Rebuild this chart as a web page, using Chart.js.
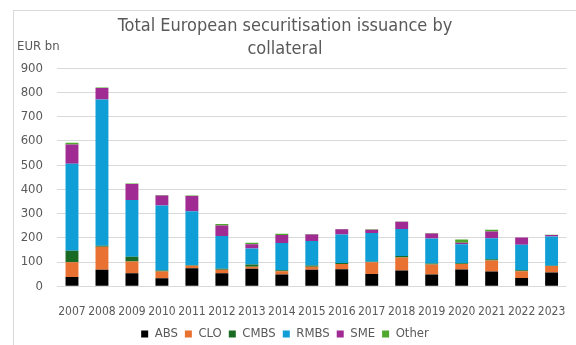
<!DOCTYPE html>
<html>
<head>
<meta charset="utf-8">
<script src="https://cdn.jsdelivr.net/npm/chart.js@4"></script>
<style>
  body { margin: 0; background: #fff; }
  #wrap { position: relative; width: 576px; height: 345px; }
  #frame { position: absolute; left: 13px; top: 10px; width: 600px; height: 400px; border: 1px solid #d9d9d9; }
  canvas { position: absolute; left: 0; top: 0; }
</style>
</head>
<body>
<div id="wrap">
  <div id="frame"></div>
  <canvas id="chart" width="576" height="345"></canvas>
</div>
<script>
const years = ['2007', '2008', '2009', '2010', '2011', '2012', '2013', '2014', '2015', '2016', '2017', '2018', '2019', '2020', '2021', '2022', '2023']

// issuance per collateral type, EUR bn
const abs   = [38, 68, 54, 33, 75, 54, 72, 49, 68, 70, 51, 65, 49, 69, 61, 34, 57]
const clo   = [61, 95, 48, 28, 10, 14, 9, 13, 13, 22, 48, 54, 41, 23, 45, 28, 27]
const cmbs  = [48, 4, 20, 4, 2, 4, 9, 4, 5, 4, 2, 6, 4, 3, 6, 4, 1]
const rmbs  = [359, 604, 234, 269, 223, 136, 66, 113, 101, 118, 119, 112, 103, 79, 86, 106, 121]
const sme   = [79, 48, 66, 41, 63, 43, 18, 33, 27, 21, 13, 29, 21, 6, 28, 29, 6]
const other = [8, 2, 2, 2, 2, 6, 6, 5, 2, 2, 2, 2, 2, 13, 7, 0, 1]

const yTicks = [0, 100, 200, 300, 400, 500, 600, 700, 800, 900]

const fontFam = '"DejaVu Sans Condensed", "Liberation Sans", sans-serif'
const grey = '#595959'

function series(label, data, color) {
    return {
        label: label,
        data: data,
        backgroundColor: color,
        borderWidth: 0,
        barPercentage: 0.43,
        categoryPercentage: 1
    }
}

// "EUR bn" unit label above the value axis
const unitLabel = {
    id: 'unitLabel',
    afterDraw(chart) {
        const ctx = chart.ctx
        ctx.save()
        ctx.font = '13px ' + fontFam
        ctx.fillStyle = grey
        ctx.textAlign = 'left'
        ctx.textBaseline = 'middle'
        ctx.fillText('EUR bn', 17, 47)
        ctx.restore()
    }
}

new Chart(document.getElementById('chart'), {
    type: 'bar',
    data: {
        labels: years,
        datasets: [
            series('ABS', abs, '#000000'),
            series('CLO', clo, '#E97132'),
            series('CMBS', cmbs, '#196B24'),
            series('RMBS', rmbs, '#0F9ED5'),
            series('SME', sme, '#A02B93'),
            series('Other', other, '#4EA72E')
        ]
    },
    options: {
        responsive: false,
        animation: false,
        layout: { padding: { left: 0, right: 6, top: 0, bottom: -5.5 } },
        plugins: {
            title: {
                display: true,
                text: ['Total European securitisation issuance by', 'collateral'],
                color: grey,
                font: { family: fontFam, size: 18, weight: 'normal', lineHeight: 1.28 },
                padding: { top: 15, bottom: 7.2 }
            },
            legend: {
                position: 'bottom',
                labels: {
                    color: grey,
                    font: { family: fontFam, size: 13 },
                    boxWidth: 7,
                    boxHeight: 7,
                    padding: 7
                }
            },
            tooltip: { enabled: false }
        },
        scales: {
            x: {
                stacked: true,
                afterFit: s => { s.height = 34.2 },
                grid: { display: false },
                border: { display: false },
                ticks: { color: grey, font: { family: fontFam, size: 12 }, maxRotation: 0, autoSkip: false, padding: 10.5 }
            },
            y: {
                stacked: true,
                min: 0,
                max: 900,
                afterBuildTicks: s => { s.ticks = yTicks.map(v => ({ value: v })) },
                afterFit: s => { s.width = 57 },
                grid: { color: '#d9d9d9', drawTicks: false },
                border: { display: false },
                ticks: { color: grey, font: { family: fontFam, size: 13 }, padding: 14 }
            }
        }
    },
    plugins: [unitLabel]
})
</script>
</body>
</html>
